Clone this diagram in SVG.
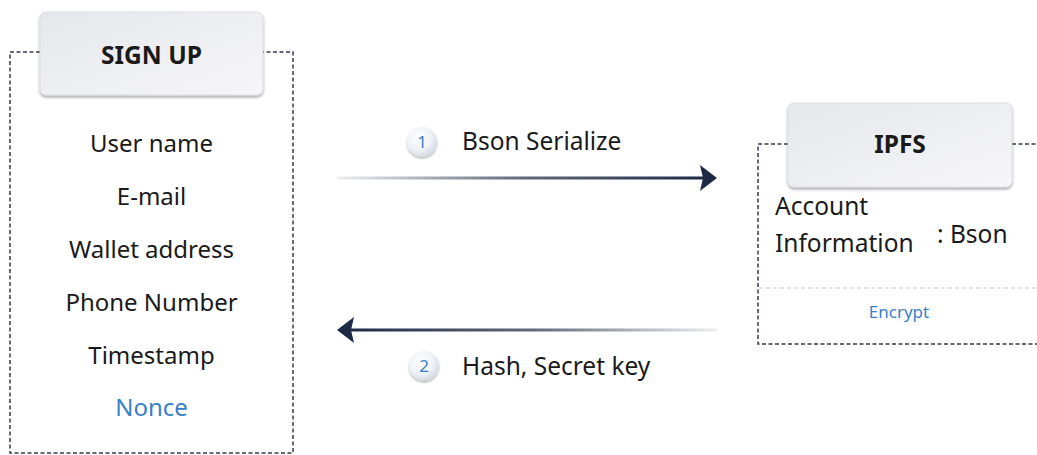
<svg xmlns="http://www.w3.org/2000/svg" width="1037" height="455" viewBox="0 0 1037 455">
<defs>
<linearGradient id="boxg" x1="0" y1="0" x2="1" y2="1">
<stop offset="0" stop-color="#e6e7eb"/>
<stop offset="1" stop-color="#f6f6f8"/>
</linearGradient>
<radialGradient id="circg" cx="0.4" cy="0.35" r="0.7">
<stop offset="0" stop-color="#ffffff"/>
<stop offset="0.6" stop-color="#eef1f6"/>
<stop offset="1" stop-color="#cfd5df"/>
</radialGradient>
<linearGradient id="ar1" x1="337" y1="0" x2="705" y2="0" gradientUnits="userSpaceOnUse">
<stop offset="0" stop-color="#1e2a45" stop-opacity="0.08"/>
<stop offset="0.5" stop-color="#1e2a45" stop-opacity="0.7"/>
<stop offset="1" stop-color="#1e2a45"/>
</linearGradient>
<linearGradient id="ar2" x1="717" y1="0" x2="350" y2="0" gradientUnits="userSpaceOnUse">
<stop offset="0" stop-color="#1e2a45" stop-opacity="0.08"/>
<stop offset="0.5" stop-color="#1e2a45" stop-opacity="0.7"/>
<stop offset="1" stop-color="#1e2a45"/>
</linearGradient>
<filter id="sh" x="-10%" y="-10%" width="120%" height="130%">
<feDropShadow dx="0" dy="2" stdDeviation="1.5" flood-color="#000" flood-opacity="0.35"/>
</filter>
<filter id="sh2" x="-30%" y="-30%" width="160%" height="170%">
<feDropShadow dx="0" dy="1.5" stdDeviation="1.2" flood-color="#000" flood-opacity="0.3"/>
</filter>
</defs>
<style>
.dash{fill:none;stroke:#353b4a;stroke-width:1.5;stroke-dasharray:4 2.5}
.sep{fill:none;stroke:#c4c7cc;stroke-width:1;stroke-dasharray:4 3}
.title{font-family:"Noto Sans",sans-serif;font-weight:bold;font-size:24.5px;fill:#1a1a1a;text-anchor:middle}
.item{font-family:"Noto Sans",sans-serif;font-size:24px;fill:#1a1a1a;text-anchor:middle}
.lbl{font-family:"Noto Sans",sans-serif;font-size:24.5px;fill:#1a1a1a}
.blue{fill:#3a7fc8}
.num{font-family:"Noto Sans",sans-serif;font-size:17px;fill:#3a7fc8;text-anchor:middle}
.hdr{fill:url(#boxg);stroke:#d8d9de;stroke-width:0.8;filter:url(#sh)}
</style>
<rect width="1037" height="455" fill="#ffffff"/>

<g id="signup">
<path class="dash" d="M40,52 H10 V453 H293 V52 H263"/>
<rect class="hdr" x="40" y="12" width="223" height="83" rx="6"/>
<text class="title" x="151.5" y="64">SIGN UP</text>
<text class="item" x="151.5" y="152">User name</text>
<text class="item" x="151.5" y="205">E-mail</text>
<text class="item" x="151.5" y="258">Wallet address</text>
<text class="item" x="151.5" y="311">Phone Number</text>
<text class="item" x="151.5" y="364">Timestamp</text>
<text class="item blue" x="151.5" y="416">Nonce</text>
</g>

<g id="ipfs">
<path class="dash" d="M788,144 H758 V344 H1040"/>
<path class="dash" d="M1012,144 H1040"/>
<line class="sep" x1="759" y1="288" x2="1037" y2="288"/>
<rect class="hdr" x="788" y="103" width="224" height="84" rx="6"/>
<text class="title" x="900" y="153">IPFS</text>
<text class="lbl" x="775" y="215">Account</text>
<text class="lbl" x="775" y="252">Information</text>
<text class="lbl" x="937" y="243">: Bson</text>
<text class="lbl blue" x="899" y="318" style="font-size:17px;text-anchor:middle">Encrypt</text>
</g>

<g id="connectors">
<line x1="337" y1="178" x2="703" y2="178" stroke="url(#ar1)" stroke-width="3"/>
<path d="M717,178 L700,165 L703,178 L700,191 Z" fill="#1e2a45"/>
<line x1="717" y1="330" x2="351" y2="330" stroke="url(#ar2)" stroke-width="3"/>
<path d="M337,330 L354,317 L351,330 L354,343 Z" fill="#1e2a45"/>
</g>

<g id="step1">
<circle cx="422" cy="142" r="15" fill="url(#circg)" filter="url(#sh2)"/>
<text class="num" x="422" y="148">1</text>
<text class="lbl" x="462" y="150">Bson Serialize</text>
</g>

<g id="step2">
<circle cx="424" cy="366" r="15" fill="url(#circg)" filter="url(#sh2)"/>
<text class="num" x="424" y="372">2</text>
<text class="lbl" x="462" y="375">Hash, Secret key</text>
</g>
</svg>
